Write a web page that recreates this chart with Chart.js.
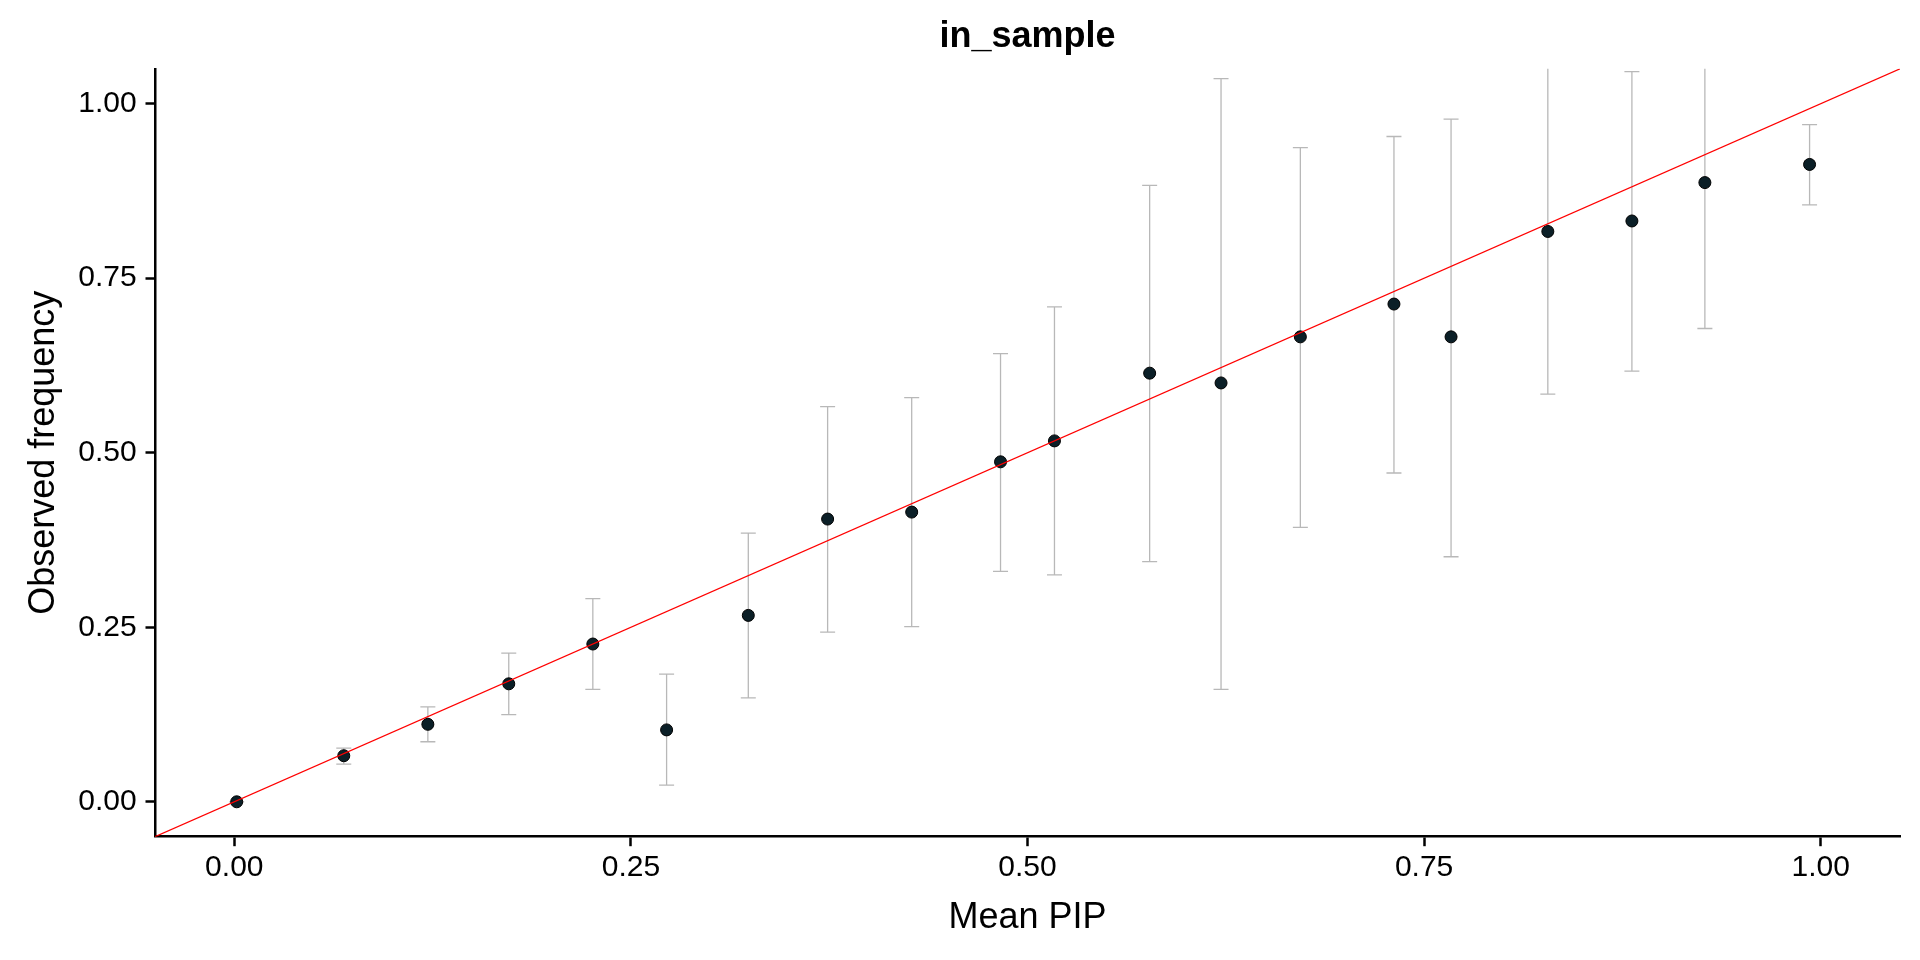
<!DOCTYPE html>
<html>
<head>
<meta charset="utf-8">
<script src="https://cdn.jsdelivr.net/npm/chart.js@4.4.1/dist/chart.umd.min.js"></script>
<style>
  html, body { margin: 0; padding: 0; background: #ffffff; }
  #wrap { width: 1920px; height: 960px; position: relative; }
</style>
</head>
<body>
<div id="wrap"><canvas id="c" width="1920" height="960"></canvas></div>
<script>
// ---- data ----
const chartTitle = 'in_sample';
const xAxisTitle = 'Mean PIP';
const yAxisTitle = 'Observed frequency';
const tickValues = [0, 0.25, 0.5, 0.75, 1.0];
const tickLabels = ['0.00', '0.25', '0.50', '0.75', '1.00'];
const axisMin = -0.05;
const axisMax = 1.05;

const meanPIP = [0.0015, 0.069, 0.122, 0.173, 0.226, 0.2725, 0.324, 0.374, 0.427, 0.483,
                 0.517, 0.577, 0.622, 0.672, 0.731, 0.767, 0.828, 0.881, 0.927, 0.993];
const obsFreq = [0.0, 0.066, 0.111, 0.169, 0.226, 0.103, 0.267, 0.405, 0.415, 0.487,
                 0.517, 0.614, 0.600, 0.666, 0.713, 0.666, 0.817, 0.832, 0.887, 0.913];
const ciLower = [0.0, 0.054, 0.086, 0.125, 0.161, 0.024, 0.149, 0.243, 0.251, 0.330,
                 0.325, 0.344, 0.161, 0.393, 0.471, 0.351, 0.584, 0.617, 0.678, 0.855];
const ciUpper = [0.0, 0.077, 0.136, 0.213, 0.291, 0.183, 0.385, 0.566, 0.579, 0.642,
                 0.709, 0.883, 1.036, 0.937, 0.953, 0.978, 1.060, 1.046, 1.100, 0.970];

// ---- chart ----
const FONT = '"Liberation Sans", Arial, Helvetica, sans-serif';
Chart.defaults.font.family = FONT;
Chart.defaults.color = '#000000';

const errorBarPlugin = {
  id: 'errorBars',
  beforeDatasetsDraw(chart) {
    const { ctx, chartArea, scales } = chart;
    const xs = scales.x, ys = scales.y;
    ctx.save();
    ctx.beginPath();
    ctx.rect(chartArea.left, chartArea.top, chartArea.right - chartArea.left, chartArea.bottom - chartArea.top);
    ctx.clip();
    ctx.strokeStyle = '#b8b8b8';
    ctx.lineWidth = 1.3;
    const capHalf = 7.5;
    for (let i = 0; i < meanPIP.length; i++) {
      const px = xs.getPixelForValue(meanPIP[i]);
      const yLo = ys.getPixelForValue(ciLower[i]);
      const yHi = ys.getPixelForValue(ciUpper[i]);
      ctx.beginPath();
      ctx.moveTo(px, yLo); ctx.lineTo(px, yHi);
      ctx.moveTo(px - capHalf, yLo); ctx.lineTo(px + capHalf, yLo);
      ctx.moveTo(px - capHalf, yHi); ctx.lineTo(px + capHalf, yHi);
      ctx.stroke();
    }
    ctx.restore();
  }
};

const pointData = meanPIP.map((x, i) => ({ x: x, y: obsFreq[i] }));
const diagData = [{ x: axisMin, y: axisMin }, { x: axisMax, y: axisMax }];

const tickOpts = (pad) => ({
  font: { size: 30, family: FONT },
  color: '#000000',
  padding: pad,
  maxRotation: 0,
  autoSkip: false,
  callback: (v) => { const k = tickValues.indexOf(v); return k >= 0 ? tickLabels[k] : ''; }
});
const gridOpts = {
  drawOnChartArea: false,
  drawTicks: true,
  tickLength: 9.5,
  tickWidth: 2.5,
  tickColor: '#000000'
};
const borderOpts = { display: true, color: '#000000', width: 2.5 };

new Chart(document.getElementById('c'), {
  type: 'scatter',
  data: {
    datasets: [
      {
        type: 'line',
        label: 'y = x',
        data: diagData,
        borderColor: '#ff0000',
        borderWidth: 1.2,
        pointRadius: 0,
        showLine: true,
        fill: false,
        order: 0
      },
      {
        type: 'scatter',
        label: 'calibration',
        data: pointData,
        pointRadius: 6,
        pointHoverRadius: 6,
        backgroundColor: '#0b1f27',
        borderColor: '#000000',
        borderWidth: 1,
        order: 1
      }
    ]
  },
  plugins: [errorBarPlugin],
  options: {
    responsive: false,
    animation: false,
    devicePixelRatio: 1,
    layout: { padding: { top: 0, left: 0, right: 20, bottom: 0 } },
    plugins: {
      legend: { display: false },
      tooltip: { enabled: false },
      title: {
        display: true,
        text: chartTitle,
        fullSize: false,
        color: '#000000',
        font: { size: 36, weight: 'bold', family: FONT },
        padding: { top: 15.5, bottom: 10.1 }
      }
    },
    scales: {
      x: {
        type: 'linear',
        position: 'bottom',
        min: axisMin,
        max: axisMax,
        afterBuildTicks: (s) => { s.ticks = tickValues.map(v => ({ value: v })); },
        afterFit: (s) => { s.height = 123.3; },
        ticks: tickOpts(3.3),
        grid: gridOpts,
        border: borderOpts,
        title: {
          display: true,
          text: xAxisTitle,
          color: '#000000',
          font: { size: 36, family: FONT },
          padding: { top: 0, bottom: 20.4 }
        }
      },
      y: {
        type: 'linear',
        position: 'left',
        min: axisMin,
        max: axisMax,
        afterBuildTicks: (s) => { s.ticks = tickValues.map(v => ({ value: v })); },
        afterFit: (s) => { s.width = 155; },
        ticks: tickOpts(8.8),
        grid: gridOpts,
        border: borderOpts,
        title: {
          display: true,
          text: yAxisTitle,
          color: '#000000',
          font: { size: 36, family: FONT },
          padding: { top: 22.5, bottom: 0 }
        }
      }
    }
  }
});
</script>
</body>
</html>
